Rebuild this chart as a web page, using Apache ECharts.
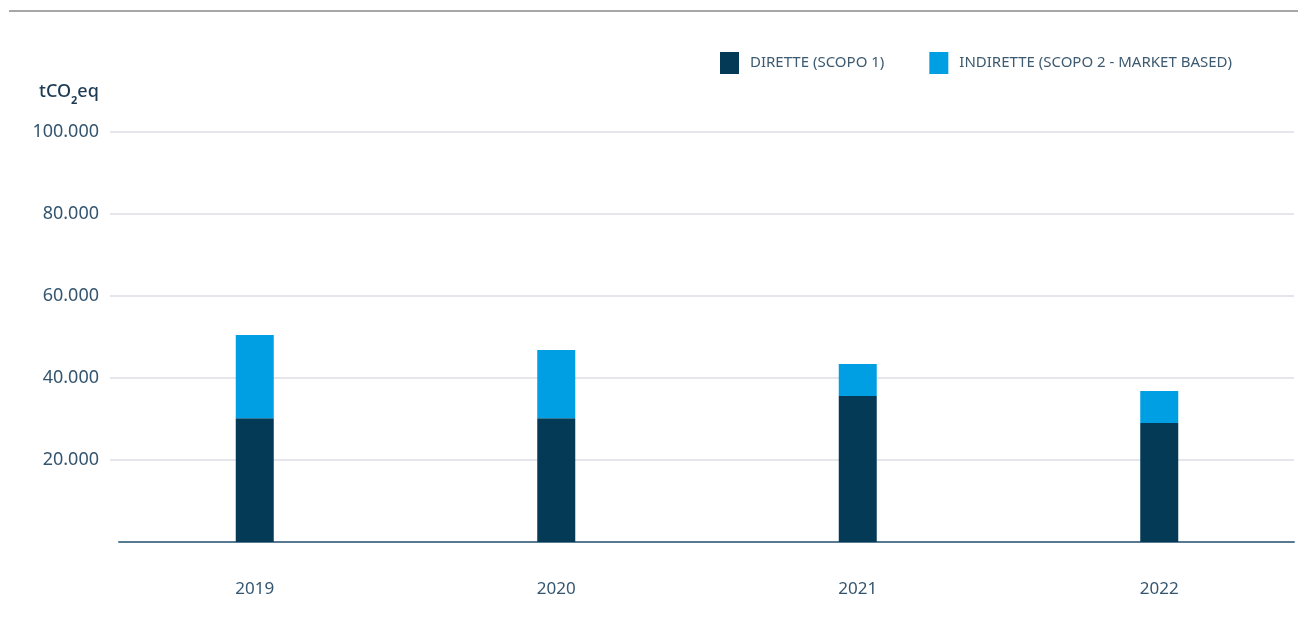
<!DOCTYPE html>
<html>
<head>
<meta charset="utf-8">
<script src="https://cdn.jsdelivr.net/npm/echarts@6/dist/echarts.min.js"></script>
<style>html,body{margin:0;padding:0;background:#fff}#c{width:1298px;height:642px}</style>
</head>
<body>
<div id="c"></div>
<script>
const years = ['2019', '2020', '2021', '2022'];
const dirette = [30200, 30200, 35600, 29000];
const indirette = [20300, 16600, 7800, 7800];
const yTicks = [0, 20000, 40000, 60000, 80000, 100000];
const seriesNames = ['DIRETTE (SCOPO 1)', 'INDIRETTE (SCOPO 2 - MARKET BASED)'];

const fmt = v => v === 0 ? '' : String(v).replace(/\B(?=(\d{3})+(?!\d))/g, '.');
const yMin = yTicks[0], yMax = yTicks[yTicks.length - 1], yStep = yTicks[1] - yTicks[0];
const chart = echarts.init(document.getElementById('c'), null, {renderer: 'canvas'});
chart.setOption({
  animation: false,
  backgroundColor: '#fff',
  textStyle: {fontFamily: 'Noto Sans'},
  graphic: [{type: 'line', shape: {x1: 9, y1: 11, x2: 1298, y2: 11}, style: {stroke: '#8a8a8a', lineWidth: 1.5}}],
  title: {
    text: '{a|tCO}{s|2}{a|eq}',
    left: 34, top: 72,
    textStyle: {rich: {
      a: {fontSize: 18, color: '#1d3a52', fontFamily: 'Noto Sans', fontWeight: 500, verticalAlign: 'bottom', lineHeight: 24},
      s: {fontSize: 11, color: '#1d3a52', fontFamily: 'Noto Sans', verticalAlign: 'bottom', lineHeight: 16, padding: [0, 0, -5, 0]}
    }}
  },
  legend: {
    left: 715, top: 47,
    itemWidth: 19, itemHeight: 22, itemGap: 45,
    icon: 'rect',
    textStyle: {fontSize: 15, color: '#3d5a70', padding: [0, 0, 0, 6]},
    data: seriesNames
  },
  grid: [
    {left: 104, width: 1206, top: 132, bottom: 100, outerBoundsMode: 'none', containLabel: false},
    {left: 110, right: 4, top: 132, bottom: 100, outerBoundsMode: 'none'},
    {left: 119, right: 4, top: 132, bottom: 100, outerBoundsMode: 'none'}
  ],
  xAxis: [
    {gridIndex: 0, type: 'category', data: years, boundaryGap: true,
     axisLine: {show: false}, axisTick: {show: false}, splitLine: {show: false},
     axisLabel: {fontSize: 17, color: '#34556f', margin: 39}},
    {gridIndex: 1, type: 'value', min: 0, max: 1, show: false},
    {gridIndex: 2, type: 'value', min: 0, max: 1,
     axisLine: {show: true, lineStyle: {color: '#587a90', width: 2}},
     axisTick: {show: false}, axisLabel: {show: false}, splitLine: {show: false}}
  ],
  yAxis: [
    {gridIndex: 0, type: 'value', min: yMin, max: yMax, interval: yStep, show: false},
    {gridIndex: 1, type: 'value', min: yMin, max: yMax, interval: yStep,
     axisLine: {show: false}, axisTick: {show: false},
     splitLine: {showMinLine: false, lineStyle: {color: '#dcdce6', width: 1.5}},
     axisLabel: {formatter: fmt, fontSize: 18, color: '#34556f', margin: 11}},
    {gridIndex: 2, type: 'value', min: 0, max: 1, show: false}
  ],
  series: [
    {name: seriesNames[0], type: 'bar', stack: 't', barWidth: 38, xAxisIndex: 0, yAxisIndex: 0,
     itemStyle: {color: '#043a56'}, data: dirette},
    {name: seriesNames[1], type: 'bar', stack: 't', barWidth: 38, xAxisIndex: 0, yAxisIndex: 0,
     itemStyle: {color: '#009fe3'}, data: indirette}
  ]
});
</script>
</body>
</html>
